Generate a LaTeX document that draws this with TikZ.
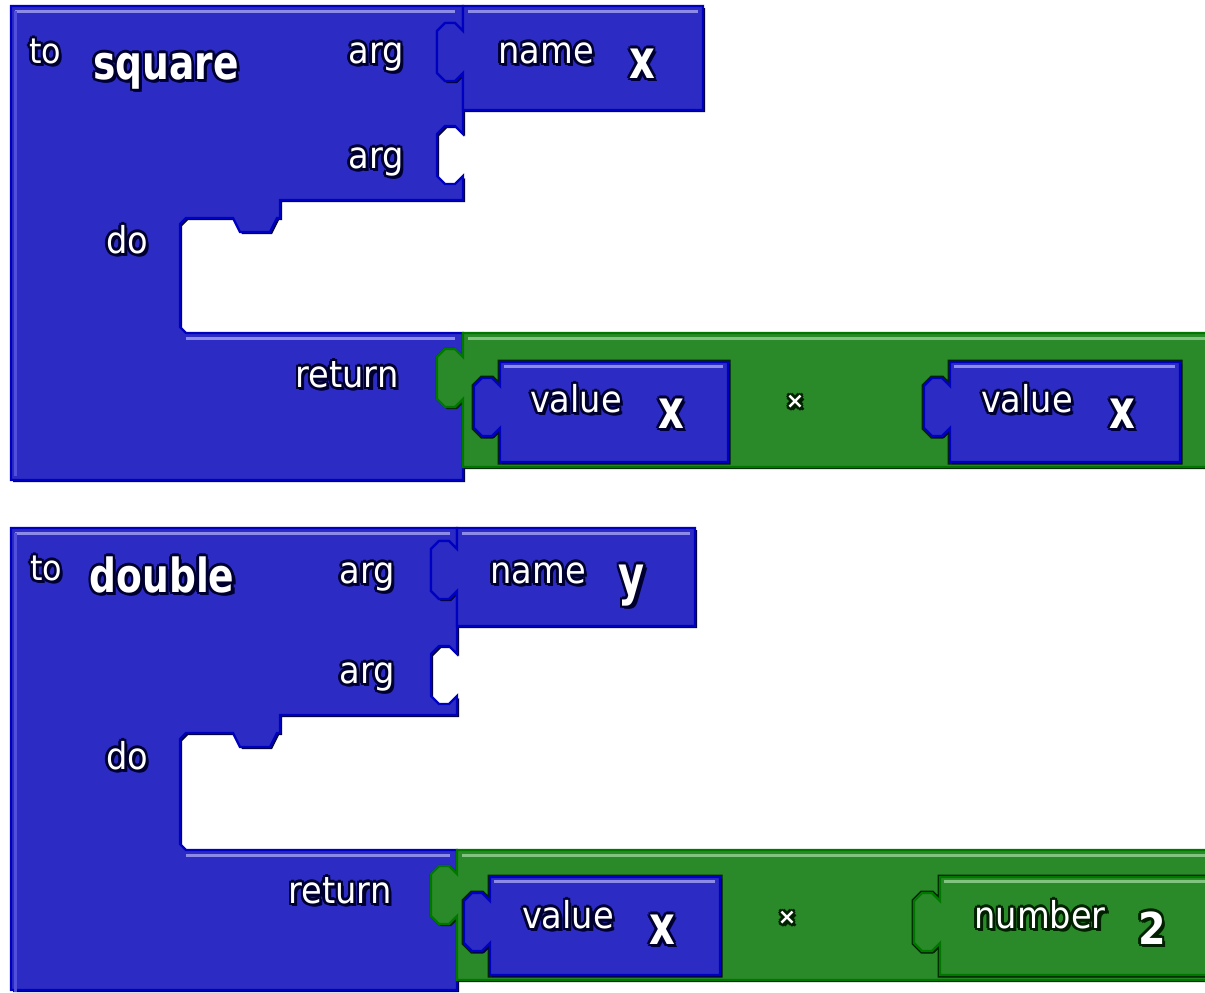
\documentclass[tikz,border=0pt]{standalone}
\usepackage{fontspec}
\setmainfont{DejaVu Sans}
\newfontfamily\lblfont[FakeStretch=0.91]{DejaVu Sans}
\newfontfamily\boldfont[FakeStretch=0.8]{DejaVu Sans Bold}
\newfontfamily\varfont[FakeStretch=0.74]{DejaVu Sans Bold}
\newfontfamily\digitfont[FakeStretch=0.9]{DejaVu Sans Bold}
\definecolor{blfill}{HTML}{2C2CC4}
\definecolor{bledge}{HTML}{0000C0}
\definecolor{blhi}{HTML}{8C8CE8}
\definecolor{blside}{HTML}{5050DC}
\definecolor{blshade}{HTML}{000038}
\definecolor{grfill}{HTML}{2A8A2A}
\definecolor{gredge}{HTML}{007800}
\definecolor{grhi}{HTML}{80C480}
\definecolor{grshade}{HTML}{002400}
\definecolor{haloblue}{HTML}{000030}
\definecolor{halogreen}{HTML}{002000}

% jigsaw socket on a right edge, and the plug that fits it
\newcommand\sockdown{-- ++(0,14) -- ++(-8,-8) -- ++(-10,0) -- ++(-8,8) -- ++(0,42) -- ++(8,8) -- ++(10,0) -- ++(8,-8) -- ++(0,14)}
\newcommand\plugup{-- ++(0,-14) -- ++(-8,8) -- ++(-10,0) -- ++(-8,-8) -- ++(0,-42) -- ++(8,-8) -- ++(10,0) -- ++(8,8) -- ++(0,-14)}

% one block: path, fill, edge, shadow
\newcommand\block[4]{%
  \fill[#4, shift={(2,2)}] #1;
  \filldraw[fill=#2, draw=#3, line width=1.2pt, line join=miter] #1;}

% white text with a dark rim: style, name, place, rim colour, text
\newcommand\blocktext[5]{%
  \foreach \hx/\hy [count=\hi] in {-1.2/0,1.2/0,0/1.2,0/-1.2,-1/1,1/1,-1/-1,1/-1,1.6/-1.6,0.6/-1.6}
    \node[#1, text=#4, xshift=\hx pt, yshift=\hy pt] (#2-\hi) at (#3) {#5};
  \node[#1] (#2) at (#3) {#5};}

\tikzset{
  lbl/.style={text=white, inner sep=0pt, anchor=base, font=\fontsize{18.5}{18.5}\lblfont},
  small/.style={lbl, font=\fontsize{17.5}{17.5}\lblfont},
  title/.style={lbl, font=\fontsize{23.5}{23.5}\boldfont},
  var/.style={lbl, font=\fontsize{27}{27}\varfont},
  digit/.style={lbl, font=\fontsize{22}{22}\digitfont},
  times/.style={lbl, anchor=center, font=\fontsize{11}{11}\selectfont\bfseries},
  hiline/.style={line width=1.5pt},
}

% block outlines
\def\squaremain{(11,6) -- (463,6) -- (463,17) \sockdown -- (463,120) \sockdown -- (463,200) -- (280,200) -- (280,218) -- (277,218) -- (270,232) -- (240,232) -- (233,218) -- (186,218) -- (180,224) -- (180,327) -- (186,333) -- (463,333) -- (463,343) \sockdown -- (463,480) -- (11,480) -- cycle}
\def\squarename{(463,6) -- (703,6) -- (703,110) -- (463,110) -- (463,87) \plugup -- cycle}
\def\squaremul{(463,333) -- (1215,333) -- (1215,467) -- (463,467) -- (463,413) \plugup -- cycle}
\def\squarevalA{(500,362) -- (728,362) -- (728,462) -- (500,462) -- (500,442) \plugup -- cycle}
\def\squarevalB{(950,362) -- (1180,362) -- (1180,462) -- (950,462) -- (950,442) \plugup -- cycle}

\def\doublemain{(11,528) -- (457,528) -- (457,535) \sockdown -- (457,640) \sockdown -- (457,715) -- (280,715) -- (280,733) -- (277,733) -- (270,747) -- (240,747) -- (233,733) -- (186,733) -- (180,739) -- (180,844) -- (186,850) -- (457,850) -- (457,860) \sockdown -- (457,990) -- (11,990) -- cycle}
\def\doublename{(457,528) -- (695,528) -- (695,626) -- (457,626) -- (457,605) \plugup -- cycle}
\def\doublemul{(457,850) -- (1215,850) -- (1215,980) -- (457,980) -- (457,930) \plugup -- cycle}
\def\doubleval{(490,877) -- (720,877) -- (720,975) -- (490,975) -- (490,957) \plugup -- cycle}
\def\doublenum{(940,877) -- (1215,877) -- (1215,975) -- (940,975) -- (940,957) \plugup -- cycle}

\begin{document}
\begin{tikzpicture}[x=0.5pt, y=-0.5pt]
\clip (0,0) rectangle (1205,992);

% to square
\block{\squaremain}{blfill}{bledge}{blshade}
\draw[blhi, hiline] (15,11) -- (455,11);
\draw[blhi, hiline] (186,338) -- (455,338);
\draw[blside, hiline] (15,11) -- (15,476);
\block{\squarename}{blfill}{bledge}{blshade}
\draw[blhi, hiline] (468,11) -- (698,11);
\block{\squaremul}{grfill}{gredge}{grshade}
\draw[grhi, hiline] (468,338) -- (1205,338);
\draw[grshade, line width=2.5pt] \squarevalA;
\draw[grshade, line width=2.5pt] \squarevalB;
\block{\squarevalA}{blfill}{bledge}{blshade}
\draw[blhi, hiline] (504,366) -- (723,366);
\block{\squarevalB}{blfill}{bledge}{blshade}
\draw[blhi, hiline] (954,366) -- (1175,366);

\blocktext{small}{to1}{45,63}{haloblue}{to}
\blocktext{title}{square}{166,79}{haloblue}{square}
\blocktext{lbl}{argA1}{376,63}{haloblue}{arg}
\blocktext{lbl}{argB1}{376,168}{haloblue}{arg}
\blocktext{lbl}{do1}{127,253}{haloblue}{do}
\blocktext{lbl}{return1}{347,387}{haloblue}{return}
\blocktext{lbl}{name1}{546,63}{haloblue}{name}
\blocktext{var}{varx}{642,78}{haloblue}{x}
\blocktext{lbl}{valA}{576,412}{haloblue}{value}
\blocktext{var}{valAx}{671,428}{haloblue}{x}
\blocktext{times}{times1}{795,402}{halogreen}{×}
\blocktext{lbl}{valB}{1027,412}{haloblue}{value}
\blocktext{var}{valBx}{1122,428}{haloblue}{x}

% to double
\block{\doublemain}{blfill}{bledge}{blshade}
\draw[blhi, hiline] (15,533) -- (450,533);
\draw[blhi, hiline] (186,855) -- (450,855);
\draw[blside, hiline] (15,533) -- (15,992);
\block{\doublename}{blfill}{bledge}{blshade}
\draw[blhi, hiline] (462,533) -- (690,533);
\block{\doublemul}{grfill}{gredge}{grshade}
\draw[grhi, hiline] (462,855) -- (1205,855);
\draw[grshade, line width=2.5pt] \doubleval;
\draw[grshade, line width=2.5pt] \doublenum;
\block{\doubleval}{blfill}{bledge}{blshade}
\draw[blhi, hiline] (494,881) -- (715,881);
\block{\doublenum}{grfill}{gredge}{grshade}
\draw[grhi, hiline] (944,881) -- (1205,881);

\blocktext{small}{to2}{46,580}{haloblue}{to}
\blocktext{title}{double}{162,592}{haloblue}{double}
\blocktext{lbl}{argA2}{367,583}{haloblue}{arg}
\blocktext{lbl}{argB2}{367,683}{haloblue}{arg}
\blocktext{lbl}{do2}{127,769}{haloblue}{do}
\blocktext{lbl}{return2}{340,903}{haloblue}{return}
\blocktext{lbl}{name2}{538,583}{haloblue}{name}
\blocktext{var}{vary}{632,594}{haloblue}{y}
\blocktext{lbl}{val2}{568,928}{haloblue}{value}
\blocktext{var}{val2x}{662,944}{haloblue}{x}
\blocktext{times}{times2}{787,918}{halogreen}{×}
\blocktext{lbl}{num}{1040,928}{halogreen}{number}
\blocktext{digit}{numtwo}{1152,944}{halogreen}{2}
\end{tikzpicture}
\end{document}
